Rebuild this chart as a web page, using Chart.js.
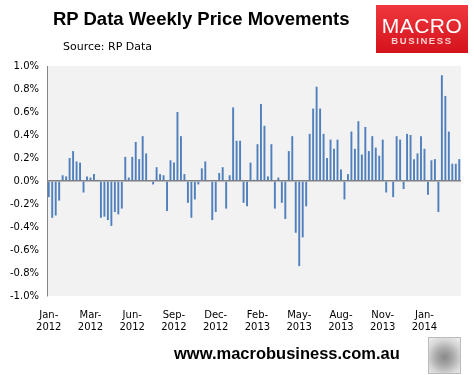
<!DOCTYPE html>
<html>
<head>
<meta charset="utf-8">
<script src="https://cdn.jsdelivr.net/npm/chart.js@4"></script>
<style>
  body { margin: 0; background: #fff; }
  #wrap { position: relative; width: 474px; height: 375px; overflow: hidden; }
  #myChart { position: absolute; left: 0; top: 0; }
  .title { position: absolute; left: 53px; top: 8px; font: bold 18.5px "Liberation Sans", Arial, sans-serif; color: #000; white-space: nowrap; }
  .source { position: absolute; left: 63px; top: 40px; font: 11px "DejaVu Sans", sans-serif; color: #000; white-space: nowrap; }
  .logo { position: absolute; left: 376px; top: 5px; width: 92px; height: 48px;
          background: linear-gradient(#f0383e, #d4121c); color: #fff; text-align: center; }
  .logo .m { position: absolute; left: 0; right: 0; top: 9px; font: 21px "Liberation Sans", Arial, sans-serif; letter-spacing: 0.5px; }
  .logo .b { position: absolute; left: 0; right: 0; top: 30px; font: bold 9.5px "Liberation Sans", Arial, sans-serif; letter-spacing: 1.6px; color: #f8d0d0; }
  .footer { position: absolute; left: 174px; top: 344px; font: bold 16.5px "Liberation Sans", Arial, sans-serif; color: #000; white-space: nowrap; }
  .wolf { position: absolute; left: 428px; top: 337px; width: 31px; height: 35px; border: 1px solid #bbb;
          background: radial-gradient(circle at 50% 55%, #888 0, #aaa 35%, #d8d8d8 70%, #eee 100%); }
</style>
</head>
<body>
<div id="wrap">
  <canvas id="myChart" width="474" height="375"></canvas>
  <div class="title">RP Data Weekly Price Movements</div>
  <div class="source">Source: RP Data</div>
  <div class="logo"><div class="m">MACRO</div><div class="b">BUSINESS</div></div>
  <div class="footer">www.macrobusiness.com.au</div>
  <div class="wolf"></div>
</div>
<script>
// weekly change in dwelling prices, %, starting first week of Jan 2012
const weeklyChange = [
	-0.14, -0.32, -0.30, -0.17, 0.05, 0.04, 0.20, 0.26, 0.17, 0.16,
	-0.10, 0.04, 0.03, 0.06, 0.01, -0.32, -0.31, -0.34, -0.39, -0.27,
	-0.29, -0.24, 0.21, 0.03, 0.21, 0.34, 0.19, 0.39, 0.24, 0.00,
	-0.03, 0.12, 0.06, 0.05, -0.26, 0.18, 0.16, 0.60, 0.39, 0.06,
	-0.19, -0.32, -0.16, -0.03, 0.11, 0.17, 0.00, -0.34, -0.27, 0.07,
	0.12, -0.24, 0.05, 0.64, 0.35, 0.35, -0.19, -0.22, 0.16, 0.01,
	0.32, 0.67, 0.48, 0.04, 0.32, -0.24, 0.03, -0.19, -0.33, 0.26,
	0.39, -0.45, -0.74, -0.49, -0.22, 0.41, 0.63, 0.82, 0.63, 0.41,
	0.20, 0.36, 0.28, 0.36, 0.10, -0.16, 0.06, 0.43, 0.28, 0.52,
	0.23, 0.47, 0.26, 0.39, 0.29, 0.22, 0.36, -0.10, 0.00, -0.14,
	0.39, 0.36, -0.07, 0.41, 0.40, 0.19, 0.24, 0.39, 0.28, -0.12,
	0.18, 0.19, -0.27, 0.92, 0.74, 0.43, 0.15, 0.15, 0.19
];
const tickLabels = ["Jan-2012", "Mar-2012", "Jun-2012", "Sep-2012", "Dec-2012",
	"Feb-2013", "May-2013", "Aug-2013", "Nov-2013", "Jan-2014"];
const tickEvery = 12;
const startDate = new Date(2012, 0, 1);

let weeks = [];
for (let i = 0; i < weeklyChange.length; i++) {
	let d = new Date(startDate.getTime() + i * 7 * 86400000);
	weeks.push(d.toISOString().slice(0, 10));
}

const plotBg = {
	id: 'plotBg',
	beforeDraw(chart) {
		const a = chart.chartArea;
		const ctx = chart.ctx;
		ctx.save();
		ctx.fillStyle = '#f2f2f2';
		ctx.fillRect(a.left, a.top, a.right - a.left, a.bottom - a.top);
		ctx.restore();
	}
};

const data = {
	labels: weeks,
	datasets: [{
		label: 'Weekly change',
		data: weeklyChange,
		backgroundColor: '#4f7fbc',
		barPercentage: 0.55,
		categoryPercentage: 1.0
	}]
};

const config = {
	type: 'bar',
	data: data,
	options: {
		responsive: false,
		animation: false,
		layout: { padding: { left: 0, top: 66, right: 13, bottom: 39 } },
		plugins: { legend: { display: false }, tooltip: { enabled: false } },
		scales: {
			x: {
				grid: { display: false },
				border: { display: false },
				afterFit: s => { s.height = 40; },
				ticks: {
					autoSkip: false,
					maxRotation: 0,
					padding: 5,
					color: '#000',
					font: { family: 'DejaVu Sans', size: 10 },
					callback: function(val, i) {
						if (i % tickEvery !== 0) return '';
						const t = tickLabels[i / tickEvery];
						if (!t) return '';
						const p = t.split('-');
						return [p[0] + '-', p[1]];
					}
				}
			},
			y: {
				min: -1,
				max: 1,
				afterFit: s => { s.width = 47; },
				grid: {
					drawTicks: false,
					color: c => c.tick.value === 0 ? '#808080' : 'rgba(0,0,0,0)',
					lineWidth: 1.5
				},
				border: { display: true, color: '#868686', width: 1 },
				ticks: {
					stepSize: 0.2,
					padding: 8,
					color: '#000',
					font: { family: 'DejaVu Sans', size: 10 },
					callback: v => v.toFixed(1) + '%'
				}
			}
		}
	},
	plugins: [plotBg]
};

let ctx = document.getElementById("myChart").getContext("2d");
new Chart(ctx, config);
</script>
</body>
</html>
